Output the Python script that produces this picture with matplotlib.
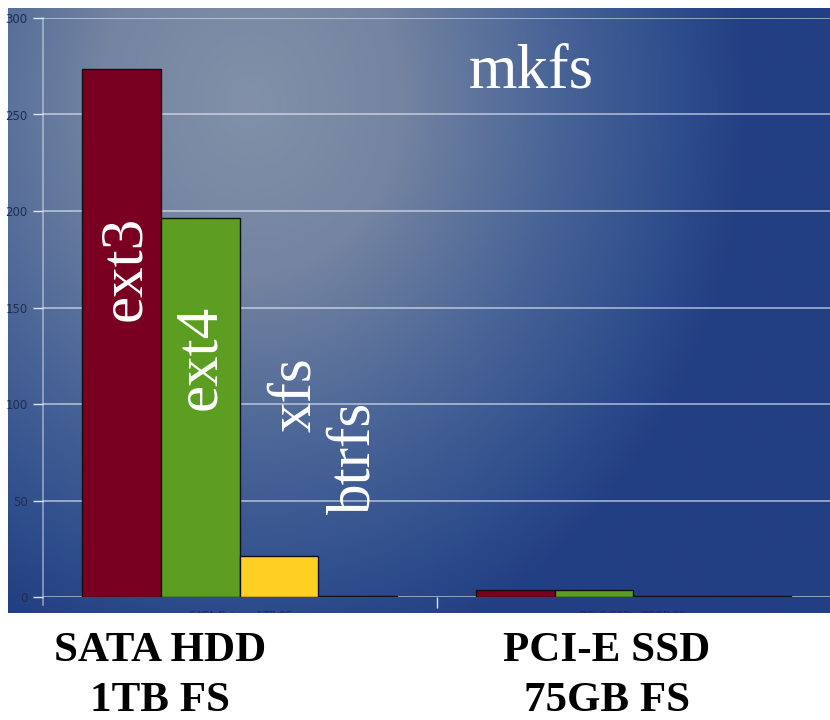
import numpy as np
import matplotlib
matplotlib.use("Agg")
import matplotlib.pyplot as plt
from matplotlib.colors import LinearSegmentedColormap

# mkfs time per filesystem on two devices
groups = ["SATA HDD\n1TB FS", "PCI-E SSD\n75GB FS"]
axis_labels = ["SATA Drive - 1TB FS", "PCI-E SSD - 75GB FS"]
filesystems = ["ext3", "ext4", "xfs", "btrfs"]
ext3 = [273.5, 3.6]
ext4 = [196.5, 3.6]
xfs = [21.2, 0.4]
btrfs = [0.4, 0.4]
yticks = [0, 50, 100, 150, 200, 250, 300]

series = [ext3, ext4, xfs, btrfs]
colors = ["#7a0022", "#5b9e22", "#ffd024", "#55678e"]

W, H = 830, 720
fig = plt.figure(figsize=(W / 100, H / 100), dpi=100)
fig.patch.set_facecolor("white")

def fx(px):
    return px / W

def fy(py):
    return 1 - py / H

# gradient backdrop panel
pl, pr, pt, pb = 8, 830, 8, 613
bg = fig.add_axes([fx(pl), fy(pb), fx(pr - pl), (pb - pt) / H])
nx, ny = 400, 300
xx, yy = np.meshgrid(np.linspace(pl, pr, nx), np.linspace(pt, pb, ny))
t = np.sqrt(((xx - 250) / 500) ** 2 + ((yy - 100) / 580) ** 2)
t = np.clip(t, 0, 1)
cmap = LinearSegmentedColormap.from_list(
    "panel", [(0, "#8291a9"), (0.3, "#7484a1"), (0.6, "#4a6597"),
              (0.85, "#2f4e8c"), (1, "#233f83")])
bg.imshow(t, cmap=cmap, vmin=0, vmax=1, aspect="auto",
          extent=[pl, pr, pb, pt], interpolation="bilinear")
bg.set_xlim(pl, pr)
bg.set_ylim(pb, pt)
bg.axis("off")

# partly hidden category labels under the axis
for cx, lab in zip([240, 633], axis_labels):
    bg.text(cx, 616, lab, ha="center", va="center", fontsize=7.5,
            color="#1a2a55", clip_on=True)

# bar chart
x0, x1, ytop, ybot = 43, 830, 18, 597
ax = fig.add_axes([fx(x0), fy(ybot), fx(x1 - x0), (ybot - ytop) / H])
ax.patch.set_alpha(0)
ax.set_xlim(-0.5, 1.5)
ax.set_ylim(0, 300)

for y in yticks:
    ax.axhline(y, color="#e6ecf6", lw=1.3, alpha=0.6, zorder=1)

width = 0.2
xs = np.arange(len(groups))
for i, (vals, col) in enumerate(zip(series, colors)):
    ax.bar(xs + (i - 1.5) * width, vals, width, color=col,
           edgecolor="#101010", linewidth=1.0, zorder=3)

for s in ["top", "right", "bottom"]:
    ax.spines[s].set_visible(False)
ax.spines["left"].set_color("#dfe6f2")
ax.spines["left"].set_alpha(0.6)
ax.spines["left"].set_linewidth(1.1)
ax.spines["left"].set_bounds(-4, 300)
ax.set_yticks(yticks)
ax.set_yticklabels([str(v) for v in yticks])
ax.tick_params(axis="y", colors="#dfe6f2", labelcolor="#1f2d52",
               labelsize=8.5, length=7, width=1, pad=4)
ax.set_xticks([0.5])
ax.set_xticklabels([""])
ax.tick_params(axis="x", colors="#dfe6f2", length=8, width=1)

# annotations
serif = "Liberation Serif"
ax.text(0.74, 272, "mkfs", fontsize=45, family=serif, color="white",
        ha="center", va="center")
ann = [("ext3", 125, 268), ("ext4", 200, 357), ("xfs", 295, 395), ("btrfs", 355, 458)]
for lab, px, py in ann:
    fig.text(fx(px), fy(py), lab, rotation=90, fontsize=44, family=serif,
             color="white", ha="center", va="center")

# group captions below the panel
for cx, lab in zip([160, 607], groups):
    fig.text(fx(cx), fy(676), lab, fontsize=31, family=serif, weight="bold",
             color="black", ha="center", va="center", linespacing=1.4)

fig.savefig("out.png", dpi=100)
